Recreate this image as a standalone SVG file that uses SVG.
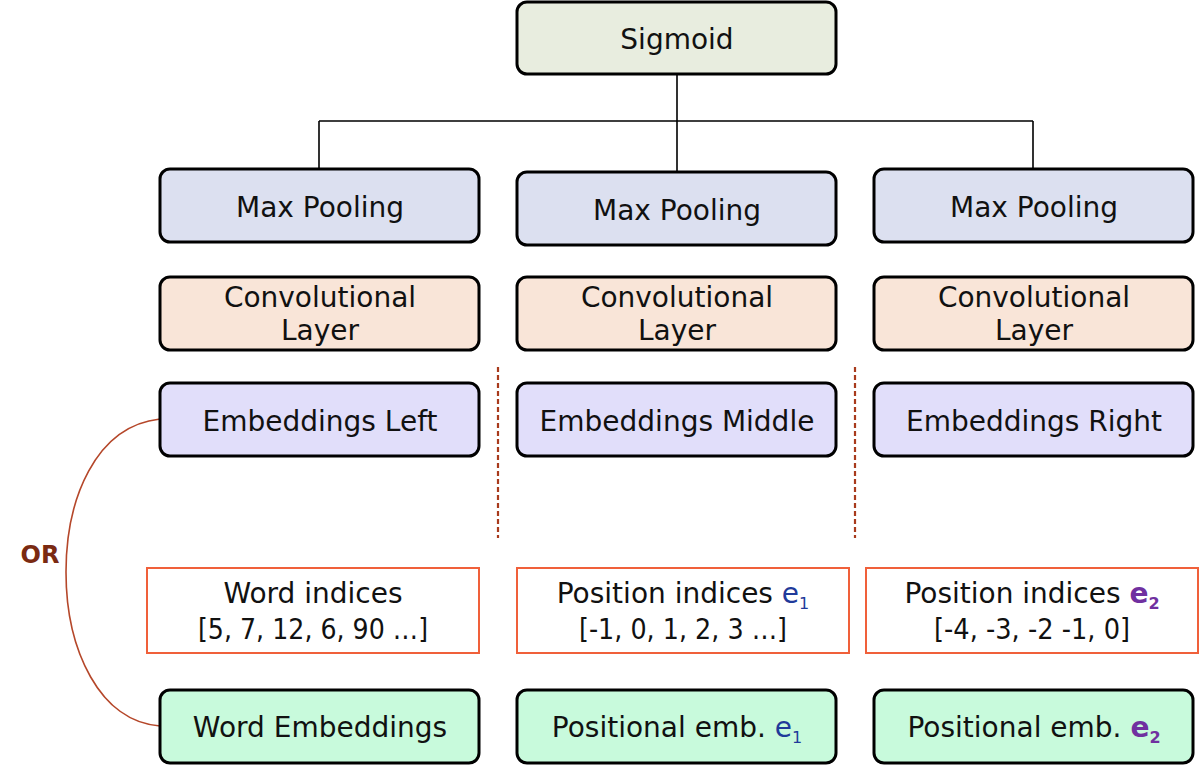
<svg xmlns="http://www.w3.org/2000/svg" width="1200" height="765" viewBox="0 0 1200 765">
<defs>
<style>
.box{stroke:#000;stroke-width:3}
.sig{fill:#e8eddf}
.mp{fill:#dce0f0}
.conv{fill:#f9e5d8}
.emb{fill:#e1defa}
.grn{fill:#c8fadc}
.idx{fill:#fff;stroke:#f0603a;stroke-width:2}
text{font-family:"DejaVu Sans","Liberation Sans",sans-serif;font-size:28px;fill:#111;text-anchor:middle}
.e1{fill:#1f3a9a}
.e2{fill:#7030a0;font-weight:bold}
.sub{font-size:16px}
.conn{stroke:#000;stroke-width:1.6;fill:none}
.dash{stroke:#a83a1c;stroke-width:2.2;stroke-dasharray:5 3;fill:none}
</style>
</defs>
<g id="connectors">
<path class="conn" d="M677,74 V172 M319,121 H1033 M319,121 V169 M1033,121 V169"/>
<path class="dash" d="M498,367 V538 M855,367 V538"/>
<path d="M160,419 C95,426 66,500 66,572 C66,650 100,722 160,726" fill="none" stroke="#b5472a" stroke-width="1.6"/>
</g>
<g id="sigmoid"><rect class="box sig" x="517" y="2" width="319" height="72" rx="10"/><text x="677" y="49">Sigmoid</text></g>
<g id="maxpool-left"><rect class="box mp" x="160" y="169" width="319" height="73" rx="10"/><text x="320" y="217">Max Pooling</text></g>
<g id="maxpool-middle"><rect class="box mp" x="517" y="172" width="319" height="73" rx="10"/><text x="677" y="220">Max Pooling</text></g>
<g id="maxpool-right"><rect class="box mp" x="874" y="169" width="319" height="73" rx="10"/><text x="1034" y="217">Max Pooling</text></g>
<g id="conv-left"><rect class="box conv" x="160" y="277" width="319" height="73" rx="10"/><text x="320" y="307">Convolutional</text><text x="320" y="340">Layer</text></g>
<g id="conv-middle"><rect class="box conv" x="517" y="277" width="319" height="73" rx="10"/><text x="677" y="307">Convolutional</text><text x="677" y="340">Layer</text></g>
<g id="conv-right"><rect class="box conv" x="874" y="277" width="319" height="73" rx="10"/><text x="1034" y="307">Convolutional</text><text x="1034" y="340">Layer</text></g>
<g id="emb-left"><rect class="box emb" x="160" y="383" width="319" height="73" rx="10"/><text x="320" y="431">Embeddings Left</text></g>
<g id="emb-middle"><rect class="box emb" x="517" y="383" width="319" height="73" rx="10"/><text x="677" y="431">Embeddings Middle</text></g>
<g id="emb-right"><rect class="box emb" x="874" y="383" width="319" height="73" rx="10"/><text x="1034" y="431">Embeddings Right</text></g>
<g id="or-label"><text x="40" y="563" style="font-weight:bold;font-size:24px;fill:#7a2a12">OR</text></g>
<g id="word-indices"><rect class="idx" x="147" y="568" width="332" height="85"/><text x="313" y="603">Word indices</text><text x="313" y="639" textLength="230" lengthAdjust="spacingAndGlyphs">[5, 7, 12, 6, 90 …]</text></g>
<g id="pos-indices-e1"><rect class="idx" x="517" y="568" width="332" height="85"/><text x="683" y="603">Position indices <tspan class="e1">e</tspan><tspan class="e1 sub" dy="6">1</tspan></text><text x="683" y="639" textLength="208" lengthAdjust="spacingAndGlyphs">[-1, 0, 1, 2, 3 …]</text></g>
<g id="pos-indices-e2"><rect class="idx" x="866" y="568" width="332" height="85"/><text x="1032" y="603">Position indices <tspan class="e2">e</tspan><tspan class="e2 sub" dy="6">2</tspan></text><text x="1032" y="639" textLength="196" lengthAdjust="spacingAndGlyphs">[-4, -3, -2 -1, 0]</text></g>
<g id="word-emb"><rect class="box grn" x="160" y="690" width="319" height="73" rx="10"/><text x="320" y="737">Word Embeddings</text></g>
<g id="pos-emb-e1"><rect class="box grn" x="517" y="690" width="319" height="73" rx="10"/><text x="677" y="737">Positional emb. <tspan class="e1">e</tspan><tspan class="e1 sub" dy="6">1</tspan></text></g>
<g id="pos-emb-e2"><rect class="box grn" x="874" y="690" width="319" height="73" rx="10"/><text x="1034" y="737">Positional emb. <tspan class="e2">e</tspan><tspan class="e2 sub" dy="6">2</tspan></text></g>
</svg>
